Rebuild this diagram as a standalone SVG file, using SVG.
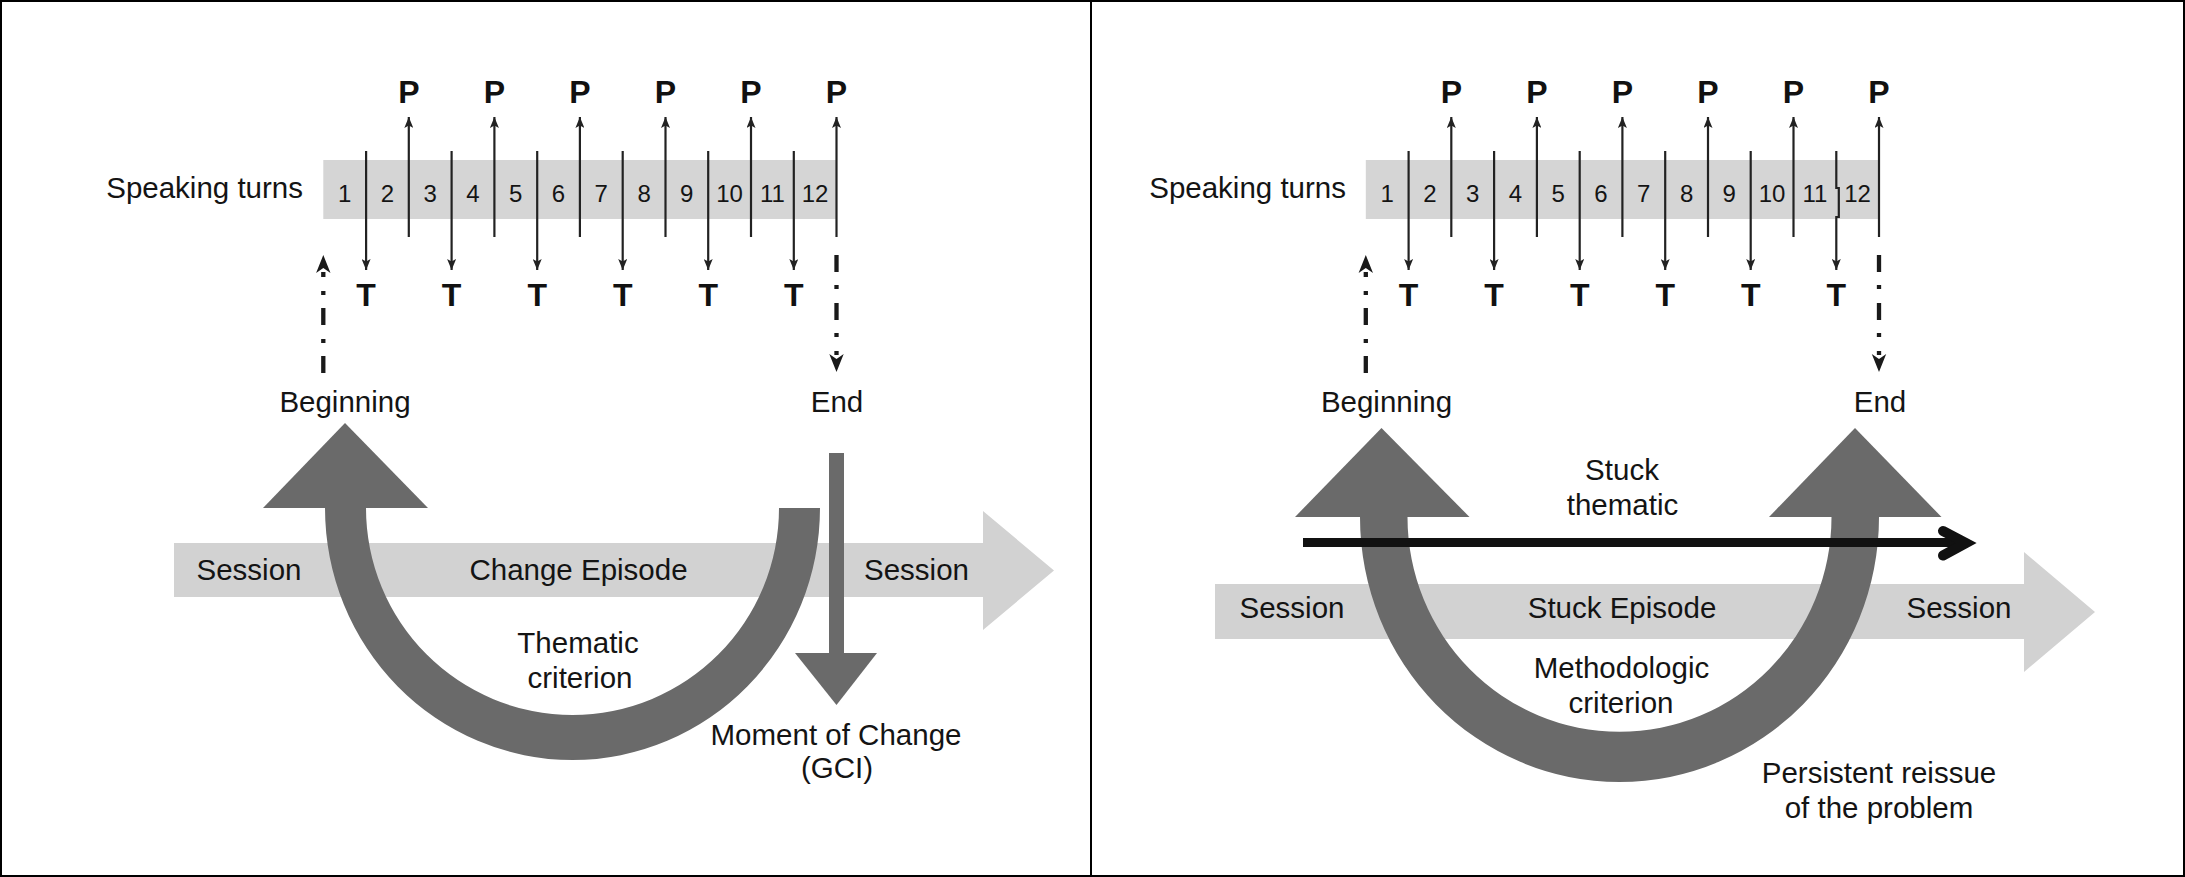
<svg xmlns="http://www.w3.org/2000/svg" width="2185" height="877" viewBox="0 0 2185 877">
<style>
.t{font-family:"Liberation Sans",Arial,sans-serif;font-size:29.5px;fill:#141414;text-anchor:middle}
.st{font-family:"Liberation Sans",Arial,sans-serif;font-size:29.5px;fill:#141414;text-anchor:end}
.n{font-family:"Liberation Sans",Arial,sans-serif;font-size:24px;fill:#141414;text-anchor:middle}
.b{font-family:"Liberation Sans",Arial,sans-serif;font-size:32px;font-weight:bold;fill:#111;text-anchor:middle}
.bar{fill:#d5d5d5}
.sess{fill:#d2d2d2}
.dk{fill:#6a6a6a}
.ar{stroke:#222;stroke-width:2.2;fill:none;marker-end:url(#ah)}
.dd{stroke:#1a1a1a;stroke-width:4.3;fill:none;stroke-dasharray:17 13 4 14}
.dh{fill:#1a1a1a}
.blk{stroke:#111;fill:none}
</style>
<defs>
<marker id="ah" markerUnits="userSpaceOnUse" markerWidth="11" markerHeight="9" refX="11" refY="4.5" orient="auto"><path d="M0,0 L11,4.5 L0,9 L2.5,4.5 Z" fill="#222"/></marker>
</defs>
<rect x="1" y="1" width="2183" height="875" fill="#fff" stroke="#000" stroke-width="2"/>
<line x1="1091" y1="0" x2="1091" y2="877" stroke="#000" stroke-width="2"/>

<!-- LEFT PANEL -->
<g id="speaking-turns-left">
<text class="st" x="303" y="198">Speaking turns</text>
<rect class="bar" x="323.3" y="160" width="513.2" height="59"/>
<text class="n" x="344.7" y="202">1</text><text class="n" x="387.5" y="202">2</text><text class="n" x="430.2" y="202">3</text><text class="n" x="473" y="202">4</text><text class="n" x="515.8" y="202">5</text><text class="n" x="558.5" y="202">6</text><text class="n" x="601.3" y="202">7</text><text class="n" x="644.1" y="202">8</text><text class="n" x="686.8" y="202">9</text><text class="n" x="729.6" y="202">10</text><text class="n" x="772.4" y="202">11</text><text class="n" x="815.1" y="202">12</text>
</g>
<g id="p-labels-left">
<text class="b" x="408.8" y="103">P</text><text class="b" x="494.4" y="103">P</text><text class="b" x="579.9" y="103">P</text><text class="b" x="665.5" y="103">P</text><text class="b" x="751" y="103">P</text><text class="b" x="836.5" y="103">P</text>
</g>
<g id="t-labels-left">
<text class="b" x="366.1" y="306">T</text><text class="b" x="451.6" y="306">T</text><text class="b" x="537.2" y="306">T</text><text class="b" x="622.7" y="306">T</text><text class="b" x="708.2" y="306">T</text><text class="b" x="793.8" y="306">T</text>
</g>
<g id="beginning-left"><text class="t" x="345" y="412">Beginning</text></g>
<g id="end-left"><text class="t" x="837" y="412">End</text></g>

<g id="session-arrow-left"><path class="sess" d="M174 543 H983 V511 L1054 570.5 L983 630 V597 H174 Z"/>
<text class="t" x="249" y="580">Session</text>
<text class="t" x="578.5" y="580">Change Episode</text>
<text class="t" x="916.5" y="580">Session</text>
</g>
<g id="thematic-u-arrow">
<path class="dk" d="M325 508 A247.5 252 0 0 0 820 508 L779 508 A206.5 207 0 0 1 366 508 Z"/>
<polygon class="dk" points="345,423 428,508 263,508"/>
<text class="t" x="578" y="653">Thematic</text>
<text class="t" x="580" y="688">criterion</text>
</g>
<g id="moment-of-change">
<rect class="dk" x="829" y="453" width="15" height="201"/>
<polygon class="dk" points="795,653 877,653 836.5,705"/>
<text class="t" x="836" y="745">Moment of Change</text>
<text class="t" x="837" y="778">(GCI)</text>
</g>

<!-- RIGHT PANEL -->
<g id="speaking-turns-right">
<text class="st" x="1346" y="198">Speaking turns</text>
<rect class="bar" x="1365.8" y="160" width="513.2" height="59"/>
<text class="n" x="1387.2" y="202">1</text><text class="n" x="1430" y="202">2</text><text class="n" x="1472.7" y="202">3</text><text class="n" x="1515.5" y="202">4</text><text class="n" x="1558.3" y="202">5</text><text class="n" x="1601" y="202">6</text><text class="n" x="1643.8" y="202">7</text><text class="n" x="1686.6" y="202">8</text><text class="n" x="1729.3" y="202">9</text><text class="n" x="1772.1" y="202">10</text><text class="n" x="1814.9" y="202">11</text><text class="n" x="1857.6" y="202">12</text>
</g>
<g id="p-labels-right">
<text class="b" x="1451.3" y="103">P</text><text class="b" x="1536.9" y="103">P</text><text class="b" x="1622.4" y="103">P</text><text class="b" x="1708" y="103">P</text><text class="b" x="1793.5" y="103">P</text><text class="b" x="1879" y="103">P</text>
</g>
<g id="t-labels-right">
<text class="b" x="1408.6" y="306">T</text><text class="b" x="1494.1" y="306">T</text><text class="b" x="1579.7" y="306">T</text><text class="b" x="1665.2" y="306">T</text><text class="b" x="1750.7" y="306">T</text><text class="b" x="1836.3" y="306">T</text>
</g>
<g id="beginning-right"><text class="t" x="1386.5" y="412">Beginning</text></g>
<g id="end-right"><text class="t" x="1880" y="412">End</text></g>

<g id="session-arrow-right"><path class="sess" d="M1215 584 H2024 V552 L2095 612 L2024 672 V639 H1215 Z"/>
<text class="t" x="1292" y="618">Session</text>
<text class="t" x="1622" y="618">Stuck Episode</text>
<text class="t" x="1959" y="618">Session</text>
</g>
<g id="methodologic-u-arrow">
<path class="dk" d="M1360 517 A259.5 265 0 0 0 1879 517 L1831.5 517 A212 215 0 0 1 1407.5 517 Z"/>
<polygon class="dk" points="1381.5,428 1469.5,517 1295,517"/>
<polygon class="dk" points="1855,428 1941.5,517 1769,517"/>
<text class="t" x="1621.5" y="678">Methodologic</text>
<text class="t" x="1621" y="713">criterion</text>
<text class="t" x="1879" y="783">Persistent reissue</text>
<text class="t" x="1879" y="818">of the problem</text>
</g>
<g id="stuck-thematic">
<text class="t" x="1622" y="480">Stuck</text>
<text class="t" x="1622.5" y="515">thematic</text>
</g>

<!-- CONNECTORS -->
<g id="connectors">
<g id="turn-arrows-left">
<path class="ar" d="M366.1 151 V270"/><path class="ar" d="M451.6 151 V270"/><path class="ar" d="M537.2 151 V270"/><path class="ar" d="M622.7 151 V270"/><path class="ar" d="M708.2 151 V270"/><path class="ar" d="M793.8 151 V270"/>
<path class="ar" d="M408.8 237 V117"/><path class="ar" d="M494.4 237 V117"/><path class="ar" d="M579.9 237 V117"/><path class="ar" d="M665.5 237 V117"/><path class="ar" d="M751 237 V117"/><path class="ar" d="M836.5 237 V117"/>
</g>
<g id="turn-arrows-right">
<path class="ar" d="M1408.6 151 V270"/><path class="ar" d="M1494.1 151 V270"/><path class="ar" d="M1579.7 151 V270"/><path class="ar" d="M1665.2 151 V270"/><path class="ar" d="M1750.7 151 V270"/><path class="ar" d="M1836.3 151 V188 H1838.8 V217 H1836.3 V270"/>
<path class="ar" d="M1451.3 237 V117"/><path class="ar" d="M1536.9 237 V117"/><path class="ar" d="M1622.4 237 V117"/><path class="ar" d="M1708 237 V117"/><path class="ar" d="M1793.5 237 V117"/><path class="ar" d="M1879 237 V117"/>
</g>
<g id="dashdot-left">
<path class="dd" d="M323.3 373 V272"/>
<polygon class="dh" points="323.3,255 330.5,273 323.3,268 316.1,273"/>
<path class="dd" d="M836.5 255 V355"/>
<polygon class="dh" points="836.5,372 843.7,354 836.5,359 829.3,354"/>
</g>
<g id="dashdot-right">
<path class="dd" d="M1365.8 373 V272"/>
<polygon class="dh" points="1365.8,255 1373,273 1365.8,268 1358.6,273"/>
<path class="dd" d="M1879 255 V355"/>
<polygon class="dh" points="1879,372 1886.2,354 1879,359 1871.8,354"/>
</g>
<g id="stuck-thematic-arrow">
<line class="blk" x1="1303" y1="542.5" x2="1966" y2="542.5" stroke-width="9"/>
<path class="blk" d="M1943 531 L1966 543 L1943 555.5" stroke-width="10" stroke-linecap="round" stroke-linejoin="miter"/>
</g>
</g>
</svg>
